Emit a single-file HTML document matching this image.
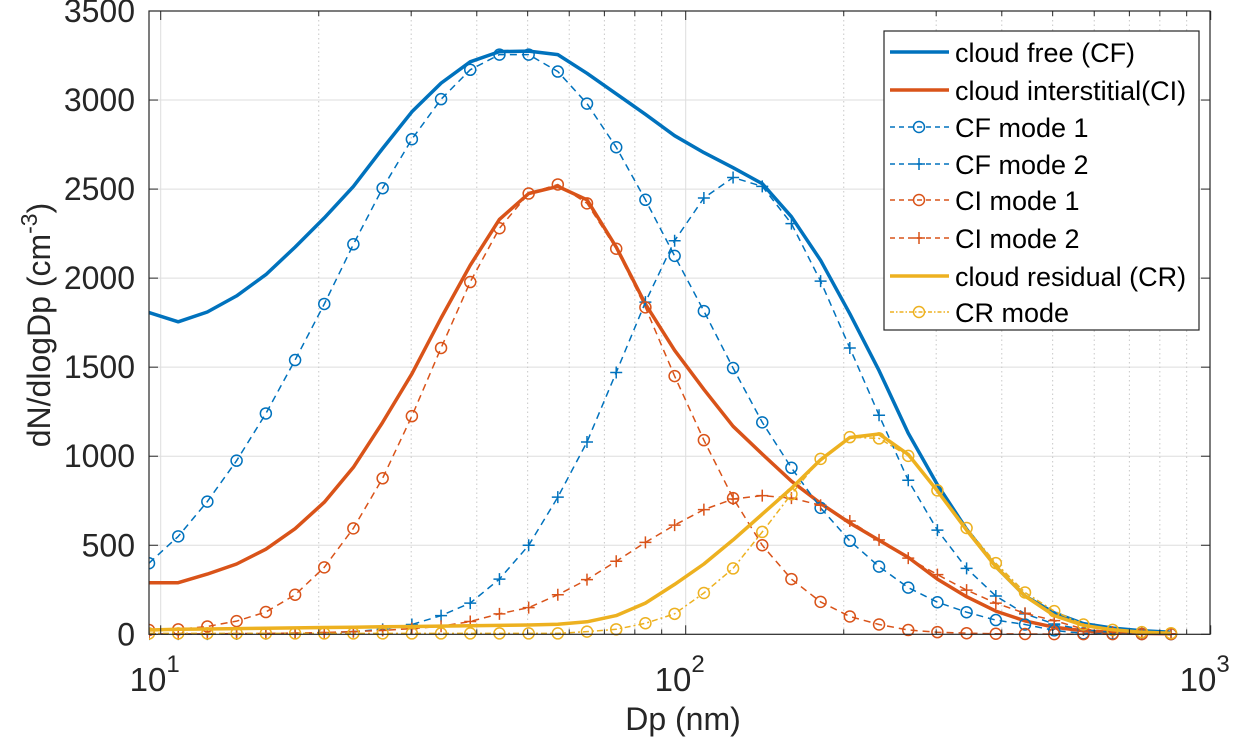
<!DOCTYPE html>
<html><head><meta charset="utf-8">
<style>
html,body{margin:0;padding:0;background:#fff;}
svg{display:block;font-family:"Liberation Sans",Arial,sans-serif;}
</style></head>
<body>
<svg id="chart" width="1238" height="747" viewBox="0 0 1238 747" xmlns="http://www.w3.org/2000/svg">
<rect x="0" y="0" width="1238" height="747" fill="#fff"/>
<g id="grid"></g>
<g id="series" clip-path="url(#clip)"></g>
<defs><clipPath id="clip"><rect x="149" y="5" width="1061" height="640"/></clipPath></defs>
<g id="axes"></g>
<g id="legend"></g>
<text x="683" y="730" font-size="32" fill="#262626" text-anchor="middle">Dp (nm)</text>
<text transform="translate(50,325) rotate(-90)" font-size="32" fill="#262626" text-anchor="middle">dN/dlogDp (cm<tspan dy="-13" font-size="23">-3</tspan><tspan dy="13">)</tspan></text>
</svg>
<script>
const dp = [9.50,10.80,12.27,13.95,15.86,18.03,20.49,23.28,26.47,30.09,34.20,38.87,44.18,50.22,57.07,64.86,73.73,83.80,95.26,108.3,123.1,139.9,159.0,180.7,205.4,233.5,265.4,301.6,342.8,389.7,442.9,503.4,572.2,650.4,739.3,840.3];
const cfTotal = [1807,1755,1810,1900,2020,2174,2338,2515,2728,2934,3095,3215,3272,3275,3255,3150,3035,2920,2800,2705,2620,2530,2345,2100,1800,1480,1130,840,590,380,215,120,60,35,20,12];
const ciTotal = [290,290,338,395,478,593,742,938,1190,1463,1776,2072,2330,2475,2515,2440,2175,1855,1595,1375,1168,1012,860,735,625,528,432,310,211,130,75,40,20,10,5,3];
const cfMode1 = [399,550,745,975,1240,1540,1855,2190,2505,2780,3005,3170,3255,3255,3160,2980,2735,2440,2125,1815,1495,1190,935,710,525,380,262,180,124,80,55,22,5,3,2,1];
const cfMode2 = [1,1,1,2,3,5,8,15,28,55,105,175,310,500,770,1080,1470,1865,2210,2450,2565,2515,2306,1983,1608,1230,865,585,370,215,115,58,25,10,4,2];
const ciMode1 = [24,28,44,74,125,222,376,595,876,1225,1608,1978,2280,2475,2526,2420,2165,1836,1450,1090,765,500,310,182,100,55,24,12,6,3,2,1,1,1,1,1];
const ciMode2 = [2,2,3,4,5,7,10,15,22,32,45,72,115,150,222,307,410,516,613,700,760,779,765,725,636,530,428,335,248,175,118,77,30,12,6,3];
const crTotal = [24,28,30,32,34,36,38,40,42,44,46,48,50,52,56,70,105,175,280,395,530,675,820,980,1105,1125,1010,805,585,380,215,105,50,25,12,6];
const crMode = [5,5,5,5,5,5,5,5,5,5,5,5,5,5,5,15,28,62,115,232,370,575,787,985,1107,1100,1002,808,597,400,235,130,55,25,12,6];
const yTicks = [0,500,1000,1500,2000,2500,3000,3500];
const xMajor = [10,100,1000];
const xMinor = [20,30,40,50,60,70,80,90,200,300,400,500,600,700,800,900];

const NS="http://www.w3.org/2000/svg";
const L=149,R=1210,T=11,B=634.3;
const X=d=>160.7+525*Math.log10(d/10);
const Y=v=>B-(v/3500)*(B-T);
function mk(tag,attrs,parent){const e=document.createElementNS(NS,tag);for(const k in attrs)e.setAttribute(k,attrs[k]);parent.appendChild(e);return e;}
const grid=document.getElementById('grid'),axes=document.getElementById('axes'),ser=document.getElementById('series'),leg=document.getElementById('legend');

yTicks.forEach(v=>{
  if(v>0&&v<3500){const g=mk('line',{x1:L,x2:R,y1:Y(v),y2:Y(v),stroke:'#dedede','stroke-width':1},grid);
  
  }
  const t=mk('text',{x:135,y:Y(v)+11,'font-size':32,fill:'#262626','text-anchor':'end'},axes);t.textContent=v;
  
  
  mk('line',{x1:L,x2:L+9,y1:Y(v),y2:Y(v),stroke:'#262626','stroke-width':1},axes);
  mk('line',{x1:R,x2:R-9,y1:Y(v),y2:Y(v),stroke:'#262626','stroke-width':1},axes);
});
xMinor.forEach(d=>{
  const g=mk('line',{x1:X(d),x2:X(d),y1:T,y2:B,stroke:'#c8c8c8','stroke-width':1,'stroke-dasharray':'1.5,3'},grid);
  
  
  mk('line',{x1:X(d),x2:X(d),y1:B,y2:B-5,stroke:'#262626'},axes);
  mk('line',{x1:X(d),x2:X(d),y1:T,y2:T+5,stroke:'#262626'},axes);
});
xMajor.forEach((d,i)=>{
  if(d<1000){const g=mk('line',{x1:X(d),x2:X(d),y1:T,y2:B,stroke:'#dedede','stroke-width':1},grid);
  
  }
  mk('line',{x1:X(d),x2:X(d),y1:B,y2:B-9,stroke:'#262626'},axes);
  mk('line',{x1:X(d),x2:X(d),y1:T,y2:T+9,stroke:'#262626'},axes);
  const t=mk('text',{x:X(d)-6,y:691,'font-size':33,fill:'#262626','text-anchor':'middle'},axes);
  
  
  t.textContent='10';
  const s=mk('tspan',{dy:-19,'font-size':24},t);s.textContent=String(i+1);
});
const box=mk('rect',{x:L,y:T,width:R-L,height:B-T,fill:'none',stroke:'#262626','stroke-width':1.2},axes);



const BLUE='#0072BD',ORG='#D95319',YEL='#EDB120';
function drawMarker(parent,x,y,type,color){
  if(type==='o'){mk('circle',{cx:x,cy:y,r:5.5,fill:'none',stroke:color,'stroke-width':1.5},parent);}
  else if(type==='+'){mk('path',{d:`M${x-6} ${y}H${x+6}M${x} ${y-6}V${y+6}`,stroke:color,'stroke-width':1.5,fill:'none'},parent);}
}
function series(vals,color,width,dash,marker,name){
  const g=mk('g',{},ser);
  
  
  const pts=vals.map((v,i)=>X(dp[i]).toFixed(1)+','+Y(v).toFixed(1)).join(' ');
  const a={points:pts,fill:'none',stroke:color,'stroke-width':width,'stroke-linejoin':'round'};
  if(dash)a['stroke-dasharray']=dash;
  mk('polyline',a,g);
  if(marker)vals.forEach((v,i)=>drawMarker(g,X(dp[i]),Y(v),marker,color));
}
series(cfTotal,BLUE,3.5,null,null,'cf-total-line');
series(ciTotal,ORG,3.5,null,null,'ci-total-line');
series(cfMode1,BLUE,1.5,'7,5','o','cf-mode1-line');
series(cfMode2,BLUE,1.5,'7,5','+','cf-mode2-line');
series(ciMode1,ORG,1.5,'7,5','o','ci-mode1-line');
series(ciMode2,ORG,1.5,'7,5','+','ci-mode2-line');
series(crTotal,YEL,3.5,null,null,'cr-total-line');
series(crMode,YEL,1.5,'6,3,2,3','o','cr-mode-line');

const lb=mk('rect',{x:884,y:31,width:315,height:299,fill:'#fff',stroke:'#262626','stroke-width':1.2},leg);


const entries=[['cloud free (CF)',BLUE,3.5,null,null],['cloud interstitial(CI)',ORG,3.5,null,null],['CF mode 1',BLUE,1.5,'5,4','o'],['CF mode 2',BLUE,1.5,'5,4','+'],['CI mode 1',ORG,1.5,'5,4','o'],['CI mode 2',ORG,1.5,'5,4','+'],['cloud residual (CR)',YEL,3.5,null,null],['CR mode',YEL,1.5,'4,2,1.5,2','o']];
const rowY=[52,90,127,164,200,238,276,312];
entries.forEach((e,i)=>{
  const g=mk('g',{},leg);
  
  
  const a={x1:890,x2:949,y1:rowY[i],y2:rowY[i],stroke:e[1],'stroke-width':e[2]};
  if(e[3])a['stroke-dasharray']=e[3];
  mk('line',a,g);
  if(e[4])drawMarker(g,919,rowY[i],e[4],e[1]);
  const t=mk('text',{x:955,y:rowY[i]+10,'font-size':27,fill:'#000'},g);t.textContent=e[0];
});
</script>
</body></html>
